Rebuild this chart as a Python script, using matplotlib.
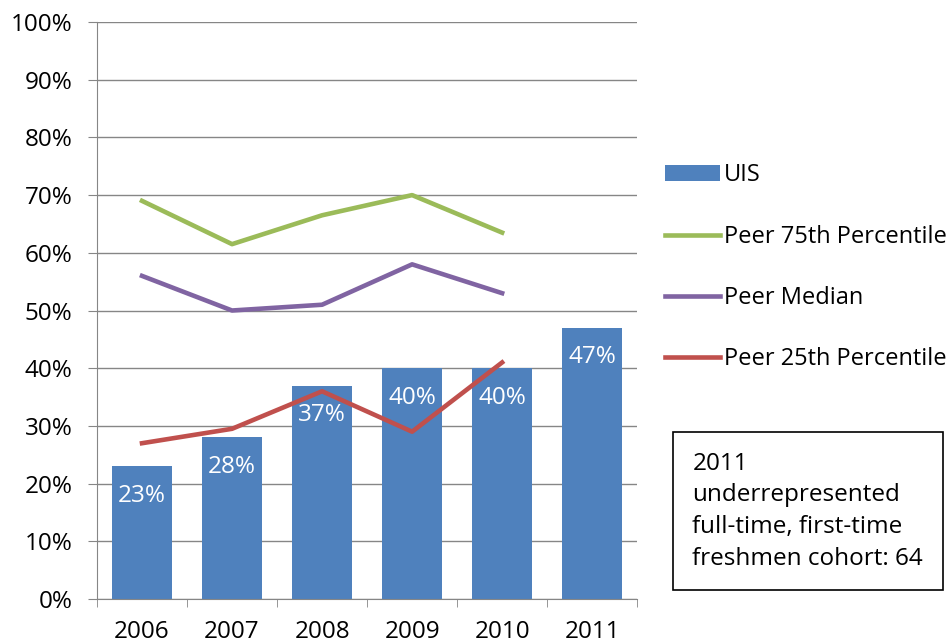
import matplotlib.pyplot as plt
import numpy as np

years = ["2006", "2007", "2008", "2009", "2010", "2011"]
uis = [23, 28, 37, 40, 40, 47]
peer_75 = [69, 61.5, 66.5, 70, 63.5]
peer_median = [56, 50, 51, 58, 53]
peer_25 = [27, 29.5, 36, 29, 41]
note = "2011\nunderrepresented\nfull-time, first-time\nfreshmen cohort: 64"

plt.rcParams["font.family"] = ["Open Sans", "DejaVu Sans"]
grid_col = "#868686"
fs = 17.5

fig = plt.figure(figsize=(9.51, 6.43), dpi=100)
ax = fig.add_axes([0.102, 0.0684, 0.568, 0.8974])

x = np.arange(len(years))
bars = ax.bar(x, uis, width=0.67, color="#4F81BD", label="UIS", zorder=2)
ax.bar_label(bars, labels=[f"{v}%" for v in uis], padding=-30,
             color="white", fontsize=fs)

lx = x[:len(peer_75)]
ax.plot(lx, peer_75, color="#9BBB59", lw=3.3, label="Peer 75th Percentile", zorder=3)
ax.plot(lx, peer_median, color="#8064A2", lw=3.3, label="Peer Median", zorder=3)
ax.plot(lx, peer_25, color="#C0504D", lw=3.3, label="Peer 25th Percentile", zorder=3)

ax.set_xlim(-0.5, len(years) - 0.5)
ax.set_ylim(0, 100)
ax.set_yticks(range(0, 101, 10))
ax.set_yticklabels([f"{v}%" for v in range(0, 101, 10)], fontsize=fs)
ax.yaxis.grid(True, color=grid_col, lw=1, zorder=0)

ax.set_xticks(x)
ax.set_xticklabels(years, fontsize=fs)
ax.set_xticks(np.arange(-0.5, len(years)), minor=True)
ax.tick_params(axis="x", which="major", length=0, pad=15)
ax.tick_params(axis="x", which="minor", length=6, color=grid_col)
ax.tick_params(axis="y", length=6.5, color=grid_col, pad=11)

for side in ["top", "right"]:
    ax.spines[side].set_visible(False)
for side in ["left", "bottom"]:
    ax.spines[side].set_color(grid_col)

handles, labels = ax.get_legend_handles_labels()
order = [3, 0, 1, 2]
fig.legend([handles[i] for i in order], [labels[i] for i in order],
           loc="upper left", bbox_to_anchor=(0.699, 0.746), frameon=False,
           borderpad=0, borderaxespad=0, fontsize=17, labelspacing=1.58,
           handlelength=2.35, handletextpad=0.15, handleheight=0.65)

fig.text(0.728, 0.205, note, fontsize=fs, va="center", ha="left", linespacing=1.42,
         bbox=dict(boxstyle="square,pad=0.8", fc="white", ec="black", lw=1.2))

fig.savefig("out.png", dpi=100)
